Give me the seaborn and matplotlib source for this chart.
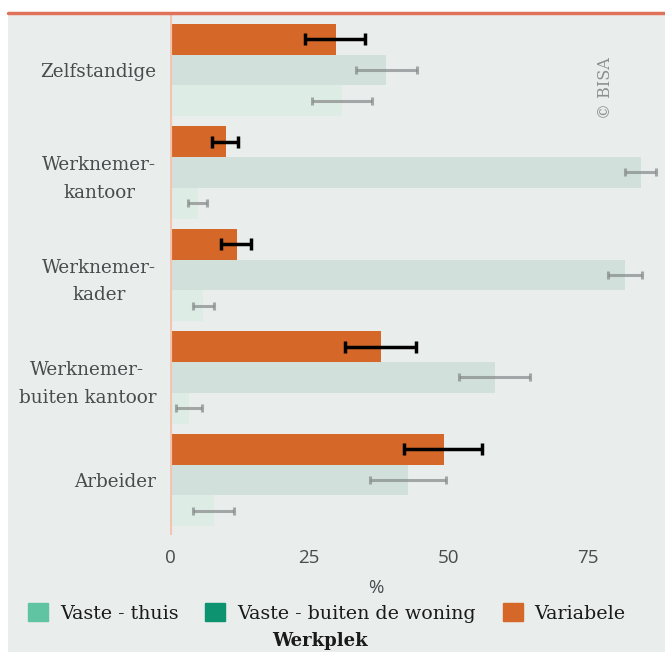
import numpy as np
import pandas as pd
import matplotlib
matplotlib.use("Agg")
import matplotlib.pyplot as plt
import matplotlib.patches as mpatches
from matplotlib.lines import Line2D
import seaborn as sns

# data
beroepen = ["Zelfstandige", "Werknemer-\nkantoor", "Werknemer-\nkader",
            "Werknemer-\nbuiten kantoor", "Arbeider"]
werkplekken = ["Variabele", "Vaste - buiten de woning", "Vaste - thuis"]

variabele = [29.8, 10.1, 12.0, 37.9, 49.2]
variabele_lo = [24.2, 7.5, 9.2, 31.4, 42.0]
variabele_hi = [35.0, 12.2, 14.5, 44.2, 56.0]

buiten = [38.8, 84.6, 81.7, 58.3, 42.7]
buiten_lo = [33.4, 81.7, 78.6, 51.9, 35.9]
buiten_hi = [44.3, 87.3, 84.7, 64.6, 49.6]

thuis = [30.9, 5.0, 5.9, 3.4, 7.9]
thuis_lo = [25.5, 3.2, 4.1, 1.1, 4.1]
thuis_hi = [36.3, 6.6, 7.9, 5.7, 11.5]

x_ticks = [0, 25, 50, 75]

kleuren = {"Variabele": "#d56828",
           "Vaste - buiten de woning": "#0e9370",
           "Vaste - thuis": "#60c3a1"}
bar_kleuren = {"Variabele": "#d56828",
               "Vaste - buiten de woning": "#d1e0da",
               "Vaste - thuis": "#ddede6"}

rows = []
for i, b in enumerate(beroepen):
    rows.append((b, "Variabele", variabele[i], variabele_lo[i], variabele_hi[i]))
    rows.append((b, "Vaste - buiten de woning", buiten[i], buiten_lo[i], buiten_hi[i]))
    rows.append((b, "Vaste - thuis", thuis[i], thuis_lo[i], thuis_hi[i]))
df = pd.DataFrame(rows, columns=["beroep", "werkplek", "pct", "lo", "hi"])

bg = "#e9edec"
tekst = "#474c4c"
sns.set_theme(style="white")
plt.rcParams["font.family"] = ["DejaVu Serif"]

fig = plt.figure(figsize=(6.65, 6.52), dpi=100)
W, H = 665, 652
fig.patch.set_facecolor("white")
fig.add_artist(mpatches.Rectangle((8 / W, 0), 1 - 8 / W, 1 - 14 / H,
                                  transform=fig.transFigure, facecolor=bg,
                                  edgecolor="none", zorder=-10))
fig.add_artist(Line2D([8 / W, 1], [1 - 13 / H, 1 - 13 / H], transform=fig.transFigure,
                      color="#df7259", lw=2.5, zorder=5))

ax = fig.add_axes([170 / W, 1 - 535 / H, (W - 170) / W, (535 - 14) / H])
ax.set_facecolor(bg)

sns.barplot(data=df, y="beroep", x="pct", hue="werkplek", order=beroepen,
            hue_order=werkplekken, palette=bar_kleuren, width=0.9,
            errorbar=None, saturation=1, legend=False, linewidth=0,
            ax=ax, zorder=2)

# foutbalken op dezelfde posities als de balken
offsets = {"Variabele": -0.3, "Vaste - buiten de woning": 0.0, "Vaste - thuis": 0.3}
for wp in werkplekken:
    sub = df[df["werkplek"] == wp]
    ys = np.arange(len(beroepen)) + offsets[wp]
    mid = (sub["lo"].values + sub["hi"].values) / 2
    half = (sub["hi"].values - sub["lo"].values) / 2
    if wp == "Variabele":
        ax.errorbar(mid, ys, xerr=half, fmt="none", ecolor="black", elinewidth=2.5,
                    capsize=4, capthick=2.5, zorder=4)
    else:
        ax.errorbar(mid, ys, xerr=half, fmt="none", ecolor="#858989", alpha=0.7,
                    elinewidth=2.2, capsize=3, capthick=2.2, zorder=4)

ax.axvline(0, color="#f4c4b2", lw=3, zorder=3)
ax.set_xlim(0, 88.9)
ax.set_ylim(4.537, -0.546)
for s in ax.spines.values():
    s.set_visible(False)

ax.set_xticks(x_ticks)
ax.set_xticklabels([str(t) for t in x_ticks], family="Open Sans", fontsize=13.5,
                   color=tekst)
ax.tick_params(axis="x", length=0, pad=10)
ax.tick_params(axis="y", length=0, pad=10)
ax.set_yticks(range(len(beroepen)))
ax.set_yticklabels(beroepen, fontsize=13.2, color=tekst, linespacing=1.65,
                   multialignment="center")
ax.set_ylabel("")
ax.set_xlabel("%", family="Open Sans", fontsize=13.5, color=tekst)
ax.xaxis.set_label_coords((376 - 170) / (W - 170), -0.085)

ax.text(0.879, 0.858, "© BISA", transform=ax.transAxes, rotation=90,
        ha="center", va="center", fontsize=11.5, color="#8a8e8e")

handles = [mpatches.Patch(color=kleuren[k], label=k)
           for k in ["Vaste - thuis", "Vaste - buiten de woning", "Variabele"]]
fig.legend(handles=handles, loc="center", bbox_to_anchor=(327 / W, 1 - 613 / H),
           ncol=3, frameon=False, fontsize=13.7, handlelength=1.05, handleheight=1.05,
           handletextpad=0.63, columnspacing=1.4, labelcolor="#1a1a1a",
           borderaxespad=0, borderpad=0)
fig.text(320 / W, 1 - 641 / H, "Werkplek", ha="center", va="center",
         fontsize=13, color="#1a1a1a", fontweight="bold")

fig.savefig("out.png", dpi=100, facecolor="white")
